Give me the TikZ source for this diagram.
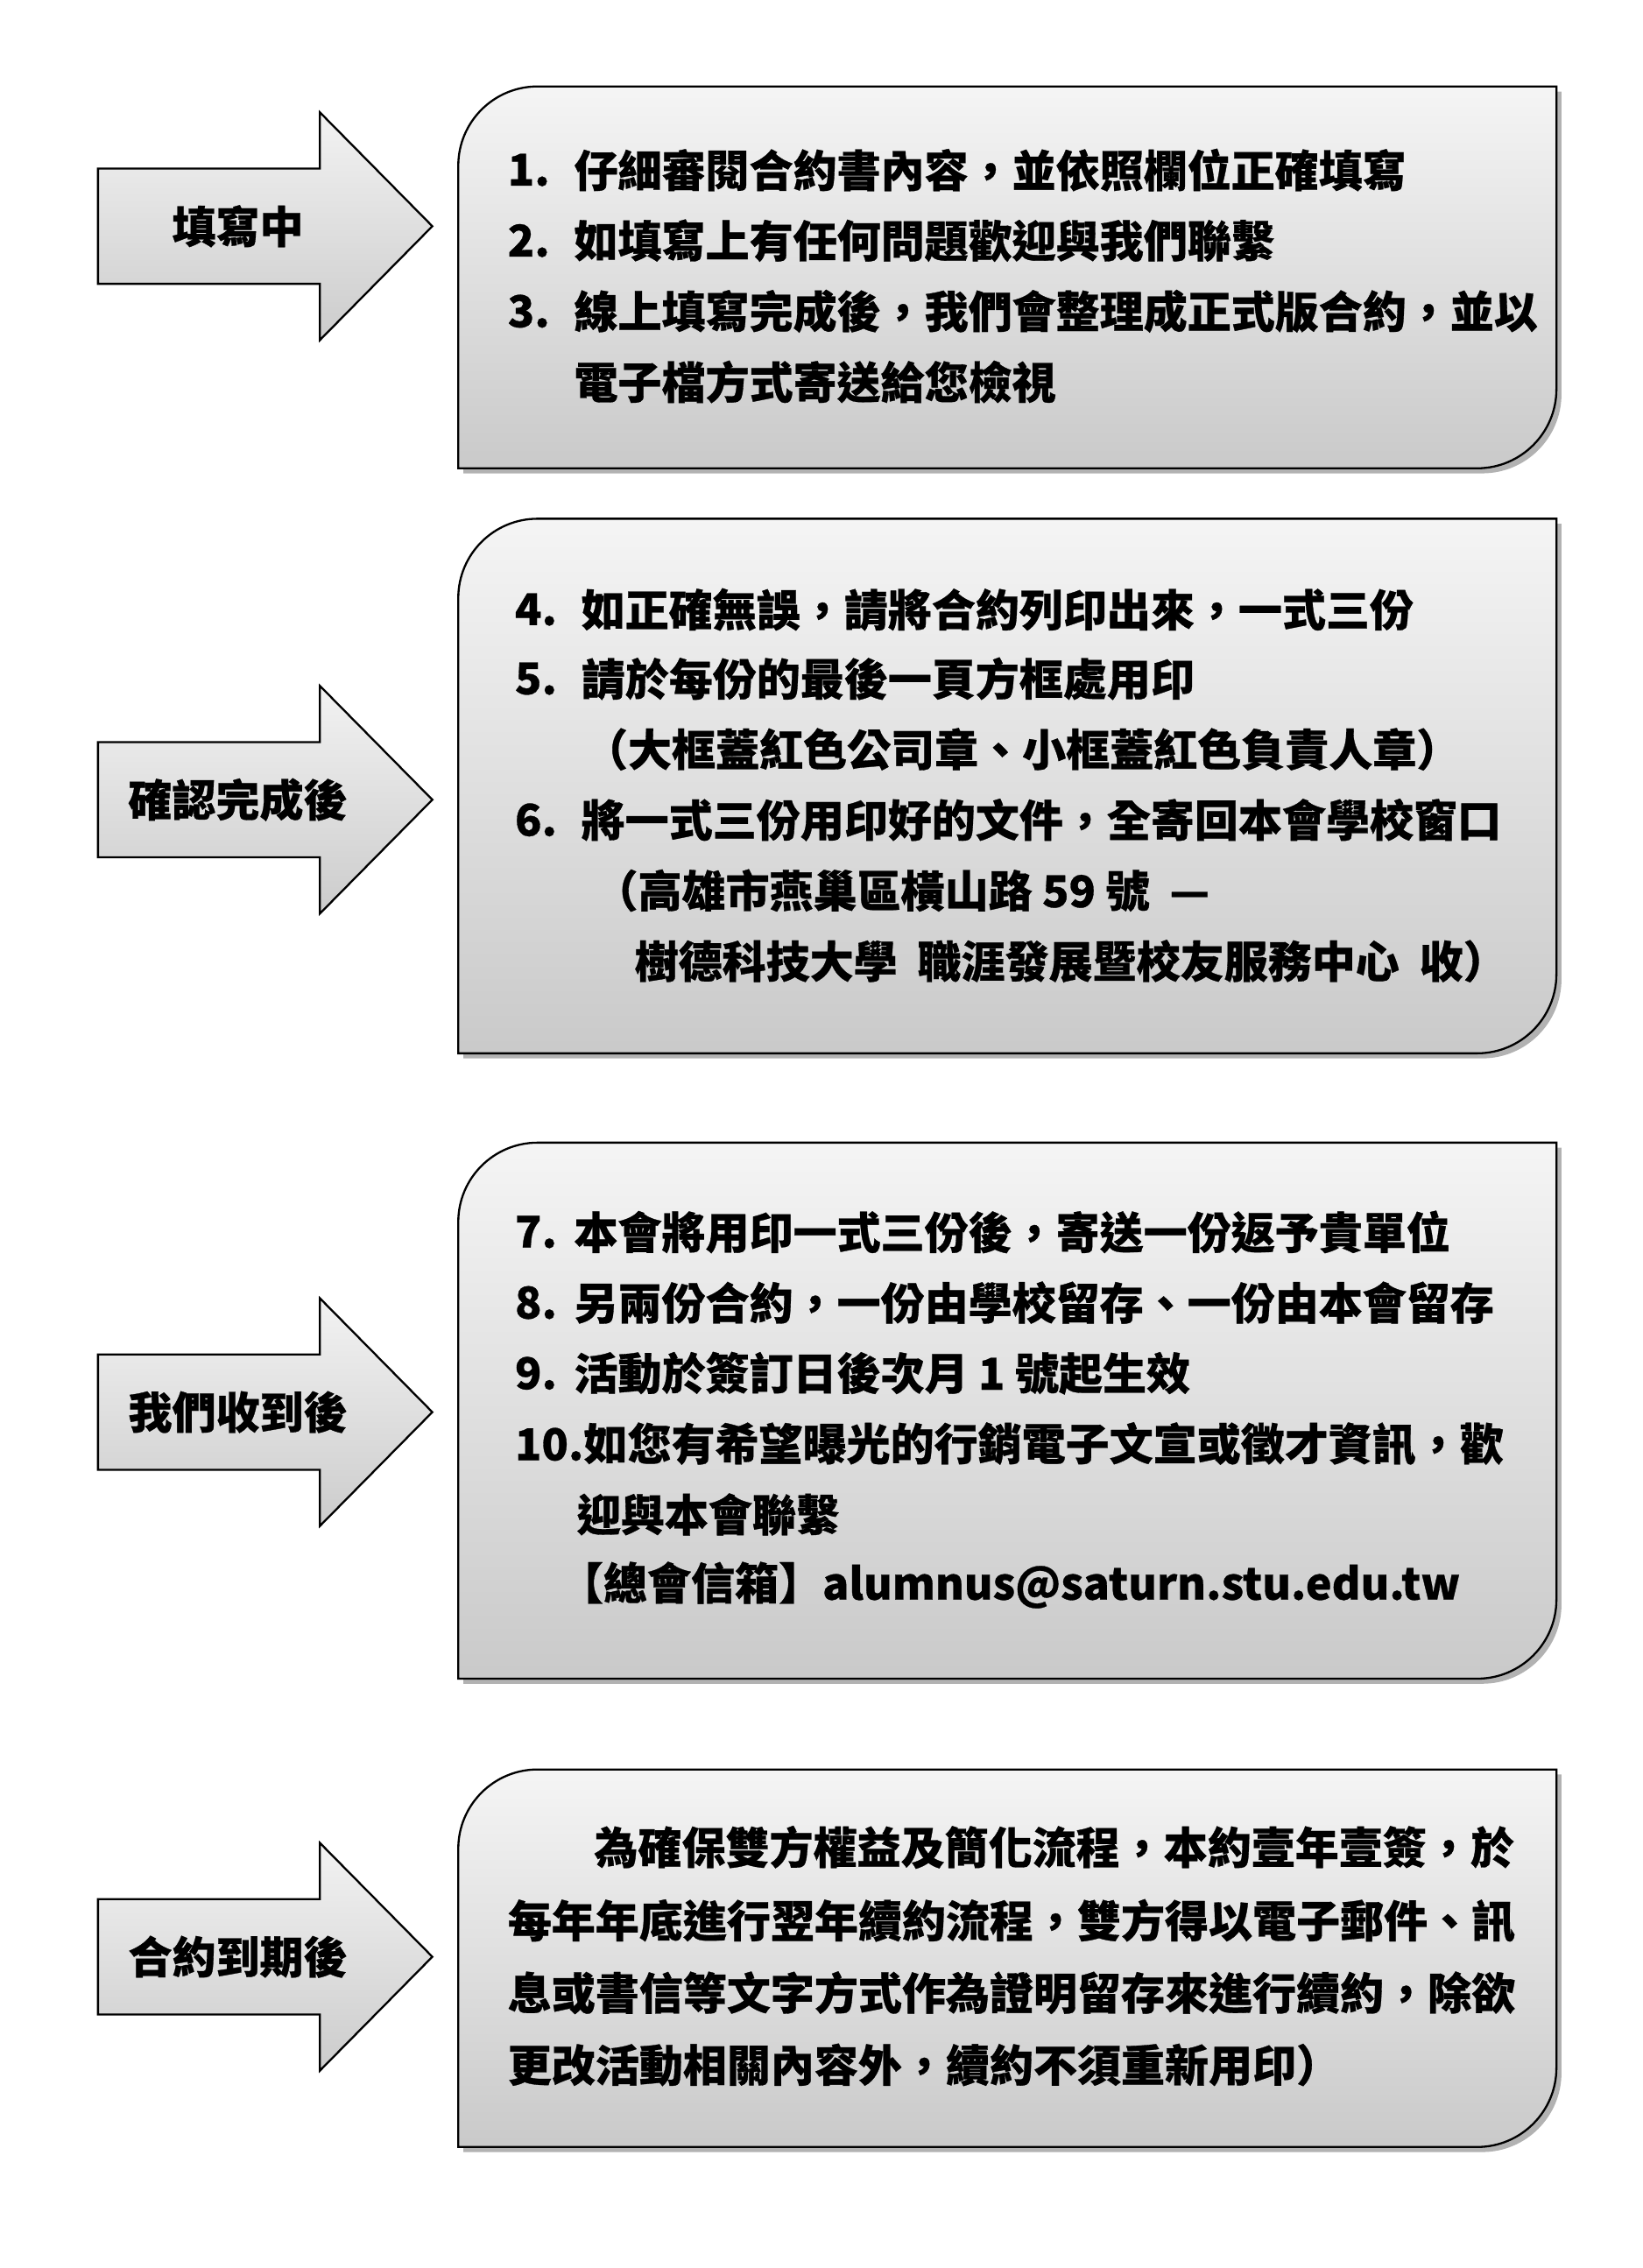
\documentclass[tikz,border=0pt]{standalone}
\usepackage{fontspec}
\setmainfont{Noto Sans CJK TC}[FakeBold=0.6]
\usetikzlibrary{shadows}
\tikzset{
    x=0.02cm, y=-0.02cm,
    panel/.style = {draw, line width=0.8pt, top color=gray!8, bottom color=gray!42,
        drop shadow={shadow xshift=2pt, shadow yshift=-2pt, fill=black!60}},
    step arrow/.style = {draw, line width=0.8pt, top color=gray!10, bottom color=gray!40},
    line/.style = {anchor=west, inner sep=0pt, font=\fontsize{17.3}{20}\selectfont\bfseries},
    tag/.style = {inner sep=0pt, font=\fontsize{17.3}{20}\selectfont\bfseries},
}
% stage arrow centred on a given height
\newcommand{\stagearrow}[3]{%
    \path[step arrow] (68,#1-40) -- (222,#1-40) -- (222,#1-79) -- (300,#1)
        -- (222,#1+79) -- (222,#1+40) -- (68,#1+40) -- cycle;
    \node[tag] (#2) at (165,#1) {#3};}
% panel with two rounded corners
\newcommand{\panelbox}[2]{%
    \path[panel] (318,#2) [rounded corners=1.1cm] -- (318,#1) [sharp corners]
        -- (1080,#1) [rounded corners=1.1cm] -- (1080,#2) [sharp corners] -- cycle;}
\begin{document}
\begin{tikzpicture}
    \useasboundingbox (0,0) rectangle (1140,1574);

    \panelbox{60}{325}
    \stagearrow{157}{fill}{填寫中}
    \node[line] (n1) at (352,118) {1.};
    \node[line] (t1) at (398,118) {仔細審閱合約書內容，並依照欄位正確填寫};
    \node[line] (n2) at (352,167) {2.};
    \node[line] (t2) at (398,167) {如填寫上有任何問題歡迎與我們聯繫};
    \node[line] (n3) at (352,216) {3.};
    \node[line] (t3) at (398,216) {線上填寫完成後，我們會整理成正式版合約，並以};
    \node[line] (t3b) at (398,265) {電子檔方式寄送給您檢視};

    \panelbox{360}{731}
    \stagearrow{555}{confirm}{確認完成後}
    \node[line] (n4) at (357,423) {4.};
    \node[line] (t4) at (403,423) {如正確無誤，請將合約列印出來，一式三份};
    \node[line] (n5) at (357,471) {5.};
    \node[line] (t5) at (403,471) {請於每份的最後一頁方框處用印};
    \node[line] (t5b) at (405,520) {（大框蓋紅色公司章、小框蓋紅色負責人章）};
    \node[line] (n6) at (357,569) {6.};
    \node[line] (t6) at (403,569) {將一式三份用印好的文件，全寄回本會學校窗口};
    \node[line] (t6b) at (412,618) {（高雄市燕巢區橫山路 59 號\ \ —};
    \node[line] (t6c) at (440,667) {樹德科技大學\ \ 職涯發展暨校友服務中心\ \ 收）};

    \panelbox{793}{1165}
    \stagearrow{980}{recv}{我們收到後}
    \node[line] (n7) at (357,855) {7.};
    \node[line] (t7) at (398,855) {本會將用印一式三份後，寄送一份返予貴單位};
    \node[line] (n8) at (357,904) {8.};
    \node[line] (t8) at (398,904) {另兩份合約，一份由學校留存、一份由本會留存};
    \node[line] (n9) at (357,953) {9.};
    \node[line] (t9) at (398,953) {活動於簽訂日後次月 1 號起生效};
    \node[line] (t10) at (357,1002) {10.如您有希望曝光的行銷電子文宣或徵才資訊，歡};
    \node[line] (t10b) at (400,1051) {迎與本會聯繫};
    \node[line] (mail) at (388,1100) {【總會信箱】alumnus@saturn.stu.edu.tw};

    \panelbox{1228}{1490}
    \stagearrow{1358}{expire}{合約到期後}
    \node[line] (r1) at (412,1282) {為確保雙方權益及簡化流程，本約壹年壹簽，於};
    \node[line] (r2) at (352,1333) {每年年底進行翌年續約流程，雙方得以電子郵件、訊};
    \node[line] (r3) at (352,1383) {息或書信等文字方式作為證明留存來進行續約，除欲};
    \node[line] (r4) at (352,1433) {更改活動相關內容外，續約不須重新用印）};
\end{tikzpicture}
\end{document}
